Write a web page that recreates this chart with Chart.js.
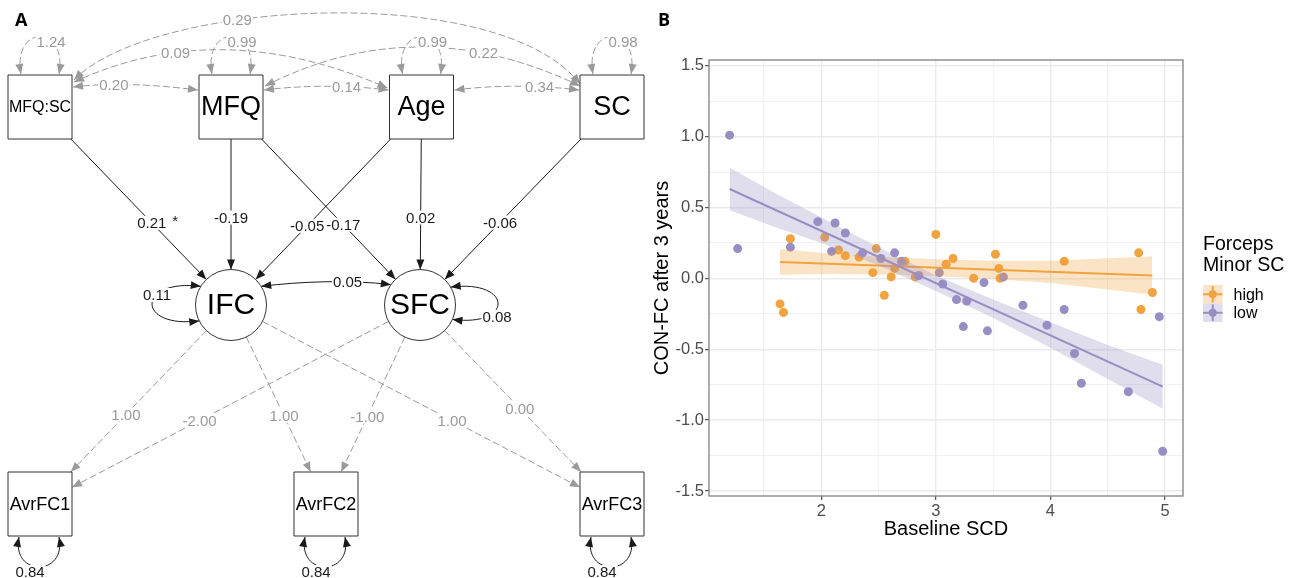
<!DOCTYPE html>
<html>
<head>
<meta charset="utf-8">
<title>Path model and CON-FC after 3 years</title>
<script src="https://cdn.jsdelivr.net/npm/chart.js@4.4.1/dist/chart.umd.min.js"></script>
<style>
  body { margin: 0; background: #fff; width: 1301px; height: 578px; overflow: hidden; position: relative; }
  canvas { position: absolute; top: 0; }
  #path-graph { left: 0; }
  #scatter-graph { left: 650px; }
  .panel-tag { position: absolute; top: 7px; font: 700 18px "Open Sans", sans-serif; color: #000; }
</style>
</head>
<body>
<canvas id="path-graph" width="650" height="578"></canvas>
<canvas id="scatter-graph" width="651" height="578"></canvas>
<div class="panel-tag" style="left:15px">A</div>
<div class="panel-tag" style="left:658px">B</div>
<script>
// * Panel A data (path model estimates)
const regFrom = ["MFQ:SC", "MFQ", "MFQ", "Age", "Age", "SC"];
const regTo = ["IFC", "IFC", "SFC", "IFC", "SFC", "SFC"];
const regEst = ["0.21 *", "-0.19", "-0.17", "-0.05", "0.02", "-0.06"];

const covFrom = ["MFQ:SC", "MFQ", "Age", "MFQ:SC", "MFQ", "MFQ:SC", "IFC"];
const covTo = ["MFQ", "Age", "SC", "Age", "SC", "SC", "SFC"];
const covEst = ["0.20", "0.14", "0.34", "0.09", "0.22", "0.29", "0.05"];

const loadFrom = ["IFC", "SFC", "IFC", "SFC", "IFC", "SFC"];
const loadTo = ["AvrFC1", "AvrFC1", "AvrFC2", "AvrFC2", "AvrFC3", "AvrFC3"];
const loadEst = ["1.00", "-2.00", "1.00", "-1.00", "1.00", "0.00"];

const varNodes = ["MFQ:SC", "MFQ", "Age", "SC", "IFC", "SFC", "AvrFC1", "AvrFC2", "AvrFC3"];
const varEst = ["1.24", "0.99", "0.99", "0.98", "0.11", "0.08", "0.84", "0.84", "0.84"];

// * Panel B data
const groups = ["high", "low"];
const highX = [1.64, 1.67, 1.73, 2.03, 2.15, 2.21, 2.33, 2.45, 2.48, 2.55, 2.61, 2.64, 2.73, 2.82, 3.0, 3.09, 3.15, 3.33, 3.52, 3.55, 3.56, 4.12, 4.77, 4.79, 4.89];
const highY = [-0.18, -0.24, 0.28, 0.29, 0.2, 0.16, 0.15, 0.04, 0.21, -0.12, 0.01, 0.07, 0.12, 0.01, 0.31, 0.1, 0.14, 0.0, 0.17, 0.07, 0.0, 0.12, 0.18, -0.22, -0.1];
const lowX = [1.2, 1.27, 1.73, 1.97, 2.09, 2.12, 2.21, 2.36, 2.52, 2.64, 2.7, 2.85, 3.03, 3.06, 3.18, 3.24, 3.27, 3.42, 3.45, 3.59, 3.76, 3.97, 4.12, 4.21, 4.27, 4.68, 4.95, 4.98];
const lowY = [1.01, 0.21, 0.22, 0.4, 0.19, 0.39, 0.32, 0.18, 0.14, 0.18, 0.12, 0.02, 0.04, -0.04, -0.15, -0.34, -0.16, -0.03, -0.37, 0.01, -0.19, -0.33, -0.22, -0.53, -0.74, -0.8, -0.27, -1.22];

const highFitX = [1.64, 4.89];
const highFitY = [0.115, 0.02];
const lowFitX = [1.2, 4.98];
const lowFitY = [0.63, -0.764];

const highBandX = [1.64, 2.0, 2.5, 3.0, 3.5, 4.0, 4.5, 4.89];
const highBandUpper = [0.205, 0.18, 0.152, 0.135, 0.125, 0.124, 0.141, 0.155];
const highBandLower = [0.025, 0.03, 0.028, 0.015, -0.005, -0.032, -0.079, -0.115];
const lowBandX = [1.2, 1.6, 2.0, 2.5, 3.0, 3.5, 4.0, 4.5, 4.98];
const lowBandUpper = [0.78, 0.6, 0.43, 0.22, 0.02, -0.15, -0.31, -0.47, -0.61];
const lowBandLower = [0.48, 0.36, 0.25, 0.09, -0.09, -0.28, -0.49, -0.71, -0.92];

const xMajor = [2, 3, 4, 5];
const xMinor = [1.5, 2.5, 3.5, 4.5];
const xTickLabels = ["2", "3", "4", "5"];
const yMajor = [-1.5, -1.0, -0.5, 0.0, 0.5, 1.0, 1.5];
const yMinor = [-1.25, -0.75, -0.25, 0.25, 0.75, 1.25];
const yTickLabels = ["-1.5", "-1.0", "-0.5", "0.0", "0.5", "1.0", "1.5"];

// * Styles
const groupColors = ["#f1a340", "#998ec3"];
const groupBands = ["rgba(241,163,64,0.3)", "rgba(153,142,195,0.3)"];
const grey = "#9a9a9a";
const ink = "#1a1a1a";
Chart.defaults.font.family = '"Liberation Sans", Arial, sans-serif';

// * Panel A layout (units of the hidden axes, 1 unit = 1 px)
const boxHalf = 32;
const circleR = 35.5;
const pathLayout = {
  "MFQ:SC": { x: 40, y: 107, shape: "box", font: 16, loop: "top" },
  MFQ: { x: 231, y: 107, shape: "box", font: 27, loop: "top" },
  Age: { x: 421.5, y: 107, shape: "box", font: 27, loop: "top" },
  SC: { x: 612, y: 107, shape: "box", font: 27, loop: "top" },
  IFC: { x: 231, y: 305, shape: "circle", font: 30, loop: "left" },
  SFC: { x: 420, y: 305, shape: "circle", font: 30, loop: "right" },
  AvrFC1: { x: 40, y: 504, shape: "box", font: 18, loop: "bottom" },
  AvrFC2: { x: 326, y: 504, shape: "box", font: 18, loop: "bottom" },
  AvrFC3: { x: 612, y: 504, shape: "box", font: 18, loop: "bottom" },
};
const regLabelAt = [0.585, 0.558, 0.594, 0.6, 0.558, 0.583];
const loadLabelAt = [0.55, 0.58, 0.558, 0.56, 0.58, 0.52];
// covariance curves: end anchors, cubic handles, label position
const covShape = [
  { a: [33, -20], b: [-33, -17], ha: [40, -5], hb: [-40, -5], t: 0.33 },
  { a: [33, -17], b: [-33, -17], ha: [40, -5], hb: [-40, -5], t: 0.66 },
  { a: [33, -17], b: [-33, -17], ha: [40, -5], hb: [-40, -5], t: 0.68 },
  { a: [34, -25], b: [-34, -19], ha: [97, -45], hb: [-112, -49], t: 0.34 },
  { a: [34, -21], b: [-32, -21], ha: [102, -52], hb: [-108, -52], t: 0.7 },
  { a: [34, -27], b: [-32, -23], ha: [76, -80], hb: [-80, -104], t: 0.36 },
  { a: [34, -21], b: [-30, -21], ha: [40, -5], hb: [-40, -5], t: 0.66 },
];
const loopShape = {
  top: { a: [-19, -33], b: [19, -33], ha: [-9, -50], hb: [9, -50], label: [11, -65] },
  bottom: { a: [-21, 33], b: [19, 33], ha: [-8, 40], hb: [8, 40], label: [-10, 68] },
  left: { a: [-34, -21], b: [-34, 17], ha: [-64, -8], hb: [-64, 8], label: [-74, -10] },
  right: { a: [36, -21], b: [36, 16], ha: [62, -8], hb: [62, 8], label: [77, 12] },
};

const anchor = (name, d) => {
  const n = pathLayout[name];
  if (n.shape === "circle") {
    const len = Math.hypot(d[0], d[1]);
    return [n.x + (d[0] / len) * circleR, n.y + (d[1] / len) * circleR];
  }
  return [n.x + d[0], n.y + d[1]];
};

const outline = (name, ux, uy) => {
  const n = pathLayout[name];
  if (n.shape === "circle") return [n.x + ux * circleR, n.y + uy * circleR];
  const k = Math.min(boxHalf / Math.abs(ux || 1e-9), boxHalf / Math.abs(uy || 1e-9));
  return [n.x + ux * k, n.y + uy * k];
};

const bezierAt = (p, t) => {
  const s = 1 - t;
  return [0, 1].map((i) => s * s * s * p[0][i] + 3 * s * s * t * p[1][i] + 3 * s * t * t * p[2][i] + t * t * t * p[3][i]);
};

// * Panel A drawing
const pathPlugin = {
  id: "pathEdges",
  beforeDatasetsDraw(chart) {
    const { ctx, scales } = chart;
    const px = (p) => [scales.x.getPixelForValue(p[0]), scales.y.getPixelForValue(p[1])];

    const arrowHead = (tip, from, color) => {
      const a = Math.atan2(tip[1] - from[1], tip[0] - from[0]);
      const len = 10, half = 4;
      ctx.fillStyle = color;
      ctx.beginPath();
      ctx.moveTo(tip[0], tip[1]);
      ctx.lineTo(tip[0] - len * Math.cos(a) + half * Math.sin(a), tip[1] - len * Math.sin(a) - half * Math.cos(a));
      ctx.lineTo(tip[0] - len * Math.cos(a) - half * Math.sin(a), tip[1] - len * Math.sin(a) + half * Math.cos(a));
      ctx.closePath();
      ctx.fill();
    };

    const stroke = (color, dashed) => {
      ctx.strokeStyle = color;
      ctx.lineWidth = 1;
      ctx.setLineDash(dashed ? [7, 3] : []);
      ctx.stroke();
      ctx.setLineDash([]);
    };

    const labels = [];
    const curve = (p, color, dashed, twoHeads) => {
      const q = p.map(px);
      ctx.beginPath();
      ctx.moveTo(q[0][0], q[0][1]);
      ctx.bezierCurveTo(q[1][0], q[1][1], q[2][0], q[2][1], q[3][0], q[3][1]);
      stroke(color, dashed);
      arrowHead(q[3], q[2], color);
      if (twoHeads) arrowHead(q[0], q[1], color);
    };

    const straight = (from, to, color, dashed, t, text) => {
      const a = pathLayout[from], b = pathLayout[to];
      const len = Math.hypot(b.x - a.x, b.y - a.y);
      const ux = (b.x - a.x) / len, uy = (b.y - a.y) / len;
      const p0 = px(outline(from, ux, uy));
      const p1 = px(outline(to, -ux, -uy));
      ctx.beginPath();
      ctx.moveTo(p0[0], p0[1]);
      ctx.lineTo(p1[0], p1[1]);
      stroke(color, dashed);
      arrowHead(p1, p0, color);
      labels.push([text, px([a.x + (b.x - a.x) * t, a.y + (b.y - a.y) * t]), color]);
    };

    // regressions
    regFrom.forEach((f, i) => straight(f, regTo[i], ink, false, regLabelAt[i], regEst[i]));
    // loadings
    loadFrom.forEach((f, i) => straight(f, loadTo[i], grey, true, loadLabelAt[i], loadEst[i]));
    // covariances
    covFrom.forEach((f, i) => {
      const s = covShape[i];
      const p0 = anchor(f, s.a), p3 = anchor(covTo[i], s.b);
      const p = [p0, [p0[0] + s.ha[0], p0[1] + s.ha[1]], [p3[0] + s.hb[0], p3[1] + s.hb[1]], p3];
      const latent = pathLayout[f].shape === "circle";
      curve(p, latent ? ink : grey, !latent, true);
      labels.push([covEst[i], px(bezierAt(p, s.t)), latent ? ink : grey]);
    });
    // variances
    varNodes.forEach((name, i) => {
      const n = pathLayout[name];
      const s = loopShape[n.loop];
      const p0 = anchor(name, s.a), p3 = anchor(name, s.b);
      const p = [p0, [p0[0] + s.ha[0], p0[1] + s.ha[1]], [p3[0] + s.hb[0], p3[1] + s.hb[1]], p3];
      const exo = n.loop === "top";
      curve(p, exo ? grey : ink, exo, true);
      labels.push([varEst[i], px([n.x + s.label[0], n.y + s.label[1]]), exo ? grey : ink]);
    });

    ctx.font = '15px "Liberation Sans", Arial, sans-serif';
    ctx.textBaseline = "middle";
    labels.forEach(([text, p, color]) => {
      const parts = text.split(" ");
      const w = ctx.measureText(parts[0]).width;
      ctx.fillStyle = "#fff";
      ctx.fillRect(p[0] - w / 2 - 1, p[1] - 7, w + 2, 14);
      ctx.fillStyle = color;
      ctx.textAlign = "center";
      ctx.fillText(parts[0], p[0], p[1] + 1);
      if (parts[1]) {
        ctx.textAlign = "left";
        ctx.fillText(parts[1], p[0] + w / 2 + 6, p[1] - 1);
      }
    });
  },
  afterDatasetsDraw(chart) {
    const { ctx, scales } = chart;
    ctx.fillStyle = "#000";
    ctx.textAlign = "center";
    ctx.textBaseline = "middle";
    Object.keys(pathLayout).forEach((name) => {
      const n = pathLayout[name];
      ctx.font = n.font + 'px "Liberation Sans", Arial, sans-serif';
      ctx.fillText(name, scales.x.getPixelForValue(n.x), scales.y.getPixelForValue(n.y) + 1);
    });
  },
};

const nodeNames = Object.keys(pathLayout);
const nodePoint = (name) => ({ x: pathLayout[name].x, y: pathLayout[name].y });

var pathChart = new Chart(document.getElementById("path-graph").getContext("2d"), {
  type: "scatter",
  data: {
    datasets: [
      {
        data: nodeNames.filter((k) => pathLayout[k].shape === "box").map(nodePoint),
        pointStyle: "rect",
        pointRadius: boxHalf / Math.SQRT1_2,
        pointBackgroundColor: "#fff",
        pointBorderColor: "#333",
        pointBorderWidth: 1,
        clip: false,
      },
      {
        data: nodeNames.filter((k) => pathLayout[k].shape === "circle").map(nodePoint),
        pointStyle: "circle",
        pointRadius: circleR,
        pointBackgroundColor: "#fff",
        pointBorderColor: "#333",
        pointBorderWidth: 1,
        clip: false,
      },
    ],
  },
  options: {
    responsive: false,
    animation: false,
    events: [],
    layout: { padding: 0, autoPadding: false },
    plugins: { legend: { display: false }, tooltip: { enabled: false } },
    scales: {
      x: { type: "linear", min: 0, max: 650, display: false },
      y: { type: "linear", min: 0, max: 578, reverse: true, display: false },
    },
  },
  plugins: [pathPlugin],
});

// * Panel B chart
const toPoints = (xs, ys) => xs.map((v, i) => ({ x: v, y: ys[i] }));
const isMajor = (list, c) => c.tick && list.includes(c.tick.value);

const lineSet = (xs, ys, g) => ({
  data: toPoints(xs, ys), showLine: true, borderColor: groupColors[g], borderWidth: 2, pointRadius: 0, fill: false,
});
const bandSet = (xs, ys, g, upper) => ({
  data: toPoints(xs, ys), showLine: true, borderColor: "rgba(0,0,0,0)", borderWidth: 0, pointRadius: 0,
  backgroundColor: groupBands[g], fill: upper ? "+1" : false,
});
const pointSet = (xs, ys, g) => ({
  data: toPoints(xs, ys), pointRadius: 4.5, pointBackgroundColor: groupColors[g], pointBorderWidth: 0,
});

const panelBorder = {
  id: "panelBorder",
  afterDraw(chart) {
    const { ctx, chartArea: a } = chart;
    ctx.save();
    ctx.strokeStyle = "#808080";
    ctx.lineWidth = 1.3;
    ctx.strokeRect(a.left, a.top, a.right - a.left, a.bottom - a.top);
    ctx.restore();
  },
};

const groupLegend = {
  id: "groupLegend",
  afterDraw(chart) {
    const { ctx, chartArea } = chart;
    const left = chartArea.right + 20;
    ctx.save();
    ctx.fillStyle = "#000";
    ctx.textAlign = "left";
    ctx.textBaseline = "middle";
    ctx.font = '19.5px "Liberation Sans", Arial, sans-serif';
    ctx.fillText("Forceps", left, 245);
    ctx.fillText("Minor SC", left, 266);
    ctx.font = '16px "Liberation Sans", Arial, sans-serif';
    groups.forEach((g, i) => {
      const top = 285 + i * 18.5;
      const cx = left + 9.75, cy = top + 9.25;
      ctx.fillStyle = groupBands[i];
      ctx.fillRect(left, top, 19.5, 18.5);
      ctx.strokeStyle = groupColors[i];
      ctx.lineWidth = 2;
      ctx.beginPath();
      ctx.moveTo(left, cy);
      ctx.lineTo(left + 19.5, cy);
      ctx.moveTo(cx, top + 1);
      ctx.lineTo(cx, top + 17.5);
      ctx.stroke();
      ctx.fillStyle = groupColors[i];
      ctx.beginPath();
      ctx.arc(cx, cy, 4, 0, Math.PI * 2);
      ctx.fill();
      ctx.fillStyle = "#000";
      ctx.fillText(g, left + 30.5, cy + 1);
    });
    ctx.restore();
  },
};

var scatterChart = new Chart(document.getElementById("scatter-graph").getContext("2d"), {
  type: "scatter",
  data: {
    datasets: [
      lineSet(lowFitX, lowFitY, 1),
      bandSet(lowBandX, lowBandUpper, 1, true),
      bandSet(lowBandX, lowBandLower, 1, false),
      lineSet(highFitX, highFitY, 0),
      bandSet(highBandX, highBandUpper, 0, true),
      bandSet(highBandX, highBandLower, 0, false),
      pointSet(lowX, lowY, 1),
      pointSet(highX, highY, 0),
    ],
  },
  options: {
    responsive: false,
    animation: false,
    events: [],
    layout: { padding: { top: 60, right: 118, bottom: 0, left: 0 }, autoPadding: false },
    plugins: { legend: { display: false }, tooltip: { enabled: false } },
    scales: {
      x: {
        type: "linear",
        min: 1.02,
        max: 5.157,
        afterFit: (s) => { s.height = 82; },
        afterBuildTicks: (s) => { s.ticks = [...xMinor, ...xMajor].sort((a, b) => a - b).map((v) => ({ value: v })); },
        border: { display: false },
        grid: {
          color: "#ebebeb",
          lineWidth: (c) => (isMajor(xMajor, c) ? 1.4 : 0.7),
          tickColor: (c) => (isMajor(xMajor, c) ? "#333" : "rgba(0,0,0,0)"),
          tickLength: 4,
          tickWidth: 1,
        },
        ticks: {
          autoSkip: false,
          maxRotation: 0,
          padding: 2,
          color: "#4d4d4d",
          font: { size: 16.5 },
          callback: (v) => (xMajor.indexOf(v) >= 0 ? xTickLabels[xMajor.indexOf(v)] : ""),
        },
        title: { display: true, text: "Baseline SCD", color: "#000", font: { size: 20 }, padding: { top: 0, bottom: 37 } },
      },
      y: {
        type: "linear",
        min: -1.535,
        max: 1.54,
        afterFit: (s) => { s.width = 59; },
        afterBuildTicks: (s) => { s.ticks = [...yMinor, ...yMajor].sort((a, b) => a - b).map((v) => ({ value: v })); },
        border: { display: false },
        grid: {
          color: "#ebebeb",
          lineWidth: (c) => (isMajor(yMajor, c) ? 1.4 : 0.7),
          tickColor: (c) => (isMajor(yMajor, c) ? "#333" : "rgba(0,0,0,0)"),
          tickLength: 4,
          tickWidth: 1,
        },
        ticks: {
          autoSkip: false,
          padding: 1,
          color: "#4d4d4d",
          font: { size: 16.5 },
          callback: (v) => (yMajor.indexOf(v) >= 0 ? yTickLabels[yMajor.indexOf(v)] : ""),
        },
        title: { display: true, text: "CON-FC after 3 years", color: "#000", font: { size: 20 }, padding: { top: 0, bottom: 0 } },
      },
    },
  },
  plugins: [panelBorder, groupLegend],
});
</script>
</body>
</html>
